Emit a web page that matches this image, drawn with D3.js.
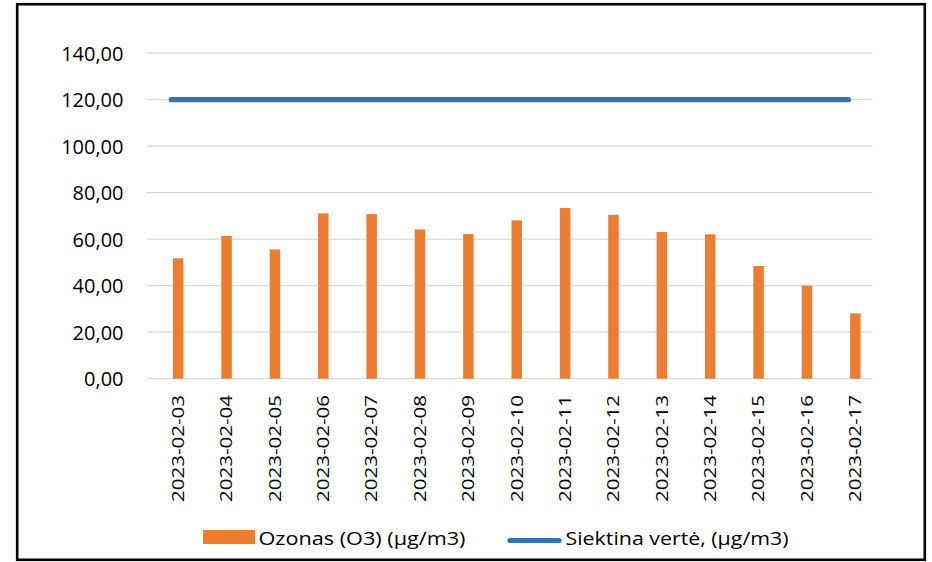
<!DOCTYPE html>
<html>
<head>
<meta charset="utf-8">
<script src="https://cdn.jsdelivr.net/npm/d3@7"></script>
<style>
  body { margin: 0; background: #fff; }
  svg { display: block; }
</style>
</head>
<body>
<svg id="chart" width="932" height="562"></svg>
<script>
const categories = ["2023-02-03","2023-02-04","2023-02-05","2023-02-06","2023-02-07","2023-02-08","2023-02-09","2023-02-10","2023-02-11","2023-02-12","2023-02-13","2023-02-14","2023-02-15","2023-02-16","2023-02-17"];
const ozoneValues = [51.8, 61.4, 55.6, 71.1, 70.8, 64.2, 62.2, 68.1, 73.4, 70.5, 63.1, 62.1, 48.5, 40.0, 28.1];
const targetValues = [120,120,120,120,120,120,120,120,120,120,120,120,120,120,120];
const yTicks = [0, 20, 40, 60, 80, 100, 120, 140];
const seriesNames = ["Ozonas (O3) (µg/m3)", "Siektina vertė, (µg/m3)"];

const svg = d3.select("#chart");
const orange = "#ED7D31", blue = "#2E75B6", grid = "#d9d9d9";
const font = "'Open Sans', 'Liberation Sans', sans-serif";

const plot = { left: 147, right: 872.5, top: 53.2, bottom: 378.7 };

// frame
svg.append("rect").attr("x", 17.2).attr("y", 4.2).attr("width", 907.6).attr("height", 555.6)
  .attr("fill", "#fff").attr("stroke", "#000").attr("stroke-width", 2.6);

const x = d3.scaleBand().domain(categories).range([plot.left, plot.right]).padding(0);
const y = d3.scaleLinear().domain([0, 140]).range([plot.bottom, plot.top]);
// inner band: an empty slot and the ozone slot
const x1 = d3.scaleBand().domain(["_", "o3"]).range([-14, 14]).paddingInner(0.25).paddingOuter(0.125);

// gridlines
svg.append("g").selectAll("line").data(yTicks).join("line")
  .attr("x1", plot.left).attr("x2", plot.right)
  .attr("y1", d => y(d)).attr("y2", d => y(d))
  .attr("stroke", grid).attr("stroke-width", 1.3);

// y axis labels
const yAxis = d3.axisLeft(y).tickValues(yTicks).tickSize(0).tickPadding(0)
  .tickFormat(d => d3.format(".2f")(d).replace(".", ","));
const yg = svg.append("g").attr("transform", `translate(123.5,0)`).call(yAxis);
yg.select(".domain").remove();
yg.selectAll("text").attr("font-family", font).attr("font-size", 20).attr("fill", "#000")
  .attr("dy", "0.34em");

// bars
svg.append("g").selectAll("rect").data(ozoneValues).join("rect")
  .attr("x", (d, i) => x(categories[i]) + x.bandwidth() / 2 + x1("o3"))
  .attr("width", x1.bandwidth())
  .attr("y", d => y(d))
  .attr("height", d => y(0) - y(d))
  .attr("fill", orange);

// target line
const line = d3.line()
  .x((d, i) => x(categories[i]) + x.bandwidth() / 2)
  .y(d => y(d));
svg.append("path").datum(targetValues).attr("d", line)
  .attr("fill", "none").attr("stroke", blue).attr("stroke-width", 5.2)
  .attr("stroke-linecap", "round");

// x labels
const xAxis = d3.axisBottom(x).tickSize(0).tickPadding(0);
const xg = svg.append("g").attr("transform", `translate(0,395)`).call(xAxis);
xg.select(".domain").remove();
xg.selectAll(".tick").attr("transform", d => `translate(${x(d) + x.bandwidth() / 2 + x1("o3") + x1.bandwidth() / 2},0)`);
xg.selectAll("text")
  .attr("font-family", font).attr("font-size", 16).attr("fill", "#000")
  .attr("transform", "rotate(-90)")
  .attr("text-anchor", "end")
  .attr("x", 0).attr("y", 0).attr("dy", "0.36em")
  .attr("textLength", 107).attr("lengthAdjust", "spacingAndGlyphs");

// legend
const lg = svg.append("g");
lg.append("rect").attr("x", 203).attr("y", 530).attr("width", 52).attr("height", 14).attr("fill", orange);
lg.append("text").attr("x", 258.5).attr("y", 544.5).text(seriesNames[0])
  .attr("font-family", font).attr("font-size", 19).attr("fill", "#000")
  .attr("textLength", 207).attr("lengthAdjust", "spacingAndGlyphs");
lg.append("line").attr("x1", 510).attr("x2", 559).attr("y1", 540.5).attr("y2", 540.5)
  .attr("stroke", blue).attr("stroke-width", 5.2).attr("stroke-linecap", "round");
lg.append("text").attr("x", 565.5).attr("y", 544.5).text(seriesNames[1])
  .attr("font-family", font).attr("font-size", 19).attr("fill", "#000")
  .attr("textLength", 223).attr("lengthAdjust", "spacingAndGlyphs");
</script>
</body>
</html>
